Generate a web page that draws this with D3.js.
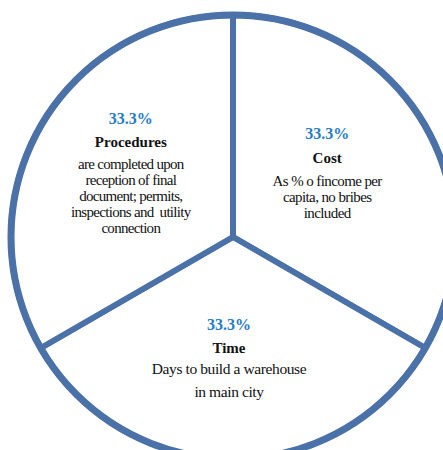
<!DOCTYPE html>
<html>
<head>
<meta charset="utf-8">
<script src="https://cdn.jsdelivr.net/npm/d3@7"></script>
<style>
  html, body { margin: 0; padding: 0; background: #fff; }
  svg { display: block; }
</style>
</head>
<body>
<svg id="chart" width="443" height="450"></svg>
<script>
// Three equally weighted components, clockwise from 12 o'clock
const categories = ["Cost", "Time", "Procedures"];
const shares = [33.3, 33.3, 33.3];
const descriptions = [
  ["As % o fincome per", "capita, no bribes", "included"],
  ["Days to build a warehouse", "in main city"],
  ["are completed upon", "reception of final", "document; permits,", "inspections and  utility", "connection"]
];

const W = 443, H = 450;
const cx = 233, cy = 237, R = 222;
const lineColor = "#4a72a9";
const pctColor = "#1f7bc8";

const svg = d3.select("#chart");
const g = svg.append("g").attr("transform", `translate(${cx},${cy})`);

const data = categories.map((c, i) => ({ name: c, value: shares[i], desc: descriptions[i] }));

const pie = d3.pie().sort(null).value(d => d.value).startAngle(0).endAngle(2 * Math.PI);
const arcs = pie(data);

const arc = d3.arc().innerRadius(0).outerRadius(R);

g.selectAll("path.slice")
  .data(arcs)
  .enter().append("path")
  .attr("class", "slice")
  .attr("d", arc)
  .attr("fill", "#fff")
  .attr("stroke", lineColor)
  .attr("stroke-width", 6)
  .attr("stroke-linejoin", "round");

// slightly heavier rim
g.append("circle")
  .attr("r", R)
  .attr("fill", "none")
  .attr("stroke", lineColor)
  .attr("stroke-width", 7);

// label placement: centroid of a ring around r≈118, with per-block line spacing
const labelArc = d3.arc().innerRadius(100).outerRadius(136);
const layout = {
  "Cost":       { dx: -8, dy: 0, gapPct: 24, gapTitle: 23, lh: 16, size: 15, ls: -0.6 },
  "Time":       { dx: -4, dy: 8, gapPct: 23, gapTitle: 21, lh: 23, size: 15.5, ls: -0.4 },
  "Procedures": { dx: 0,  dy: 0, gapPct: 23, gapTitle: 22, lh: 16, size: 15, ls: -0.7 }
};
const fmt = d3.format(".1f");

arcs.forEach(a => {
  const d = a.data;
  const L = layout[d.name];
  const [x0, y0] = labelArc.centroid(a);
  const blockH = L.gapPct + L.gapTitle + L.lh * (d.desc.length - 1);
  const x = x0 + L.dx;
  const top = y0 + L.dy - blockH / 2;

  const t = g.append("g")
    .attr("font-family", "'Liberation Serif', 'Times New Roman', serif")
    .attr("text-anchor", "middle");

  t.append("text")
    .attr("x", x).attr("y", top)
    .attr("font-size", 16).attr("font-weight", "bold")
    .attr("fill", pctColor)
    .text(fmt(d.value) + "%");

  t.append("text")
    .attr("x", x).attr("y", top + L.gapPct)
    .attr("font-size", 15).attr("font-weight", "bold")
    .attr("fill", "#111")
    .text(d.name);

  d.desc.forEach((line, j) => {
    t.append("text")
      .attr("x", x).attr("y", top + L.gapPct + L.gapTitle + j * L.lh)
      .attr("font-size", L.size)
      .attr("letter-spacing", L.ls)
      .attr("fill", "#111")
      .style("white-space", "pre")
      .text(line);
  });
});
</script>
</body>
</html>
